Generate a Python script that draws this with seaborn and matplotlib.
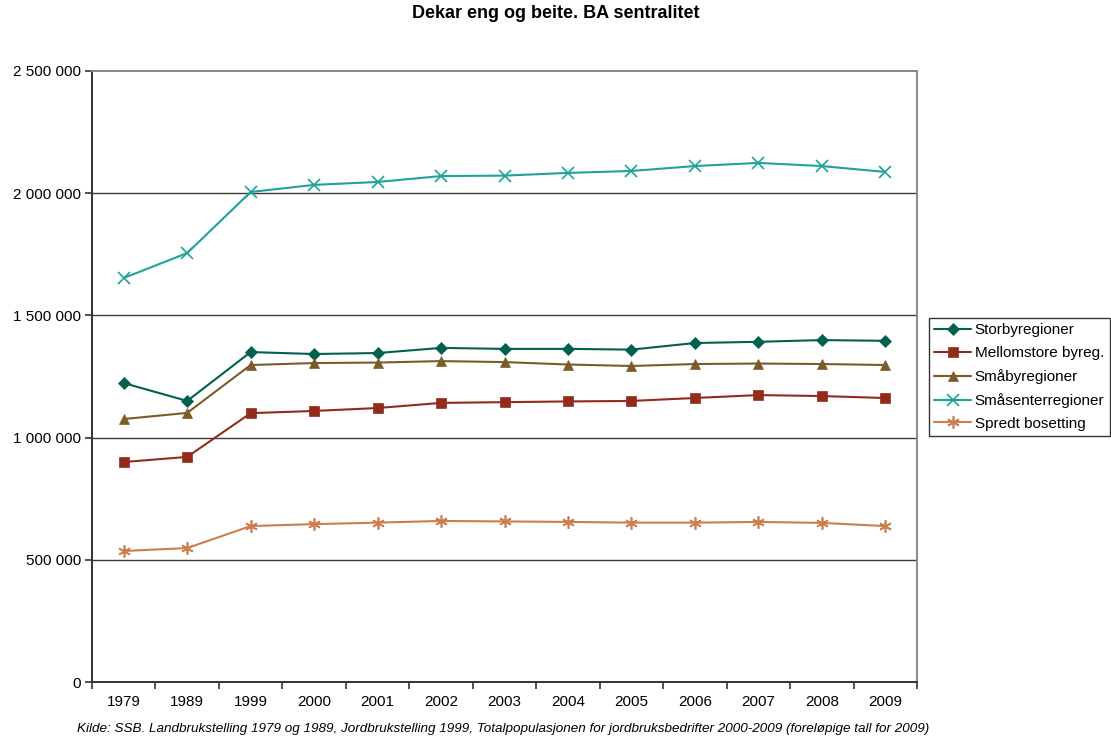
import numpy as np
import pandas as pd
import seaborn as sns
import matplotlib
matplotlib.use("Agg")
import matplotlib.pyplot as plt
from matplotlib.ticker import FuncFormatter, MultipleLocator, FixedLocator

years = ["1979", "1989", "1999", "2000", "2001", "2002", "2003",
         "2004", "2005", "2006", "2007", "2008", "2009"]

storby = [1223000, 1150000, 1350000, 1342000, 1346000, 1367000, 1363000,
          1363000, 1360000, 1387000, 1392000, 1399000, 1396000]
mellomstore = [900000, 921000, 1100000, 1109000, 1121000, 1142000, 1145000,
               1148000, 1150000, 1162000, 1174000, 1170000, 1162000]
smaaby = [1076000, 1101000, 1297000, 1305000, 1307000, 1313000, 1309000,
          1299000, 1293000, 1301000, 1303000, 1301000, 1297000]
smaasenter = [1653000, 1755000, 2005000, 2034000, 2046000, 2070000, 2072000,
              2083000, 2091000, 2111000, 2124000, 2111000, 2087000]
spredt = [536000, 548000, 638000, 646000, 652000, 659000, 657000,
          655000, 652000, 652000, 655000, 651000, 638000]

series_names = ["Storbyregioner", "Mellomstore byreg.", "Småbyregioner",
                "Småsenterregioner", "Spredt bosetting"]
series_values = [storby, mellomstore, smaaby, smaasenter, spredt]

colors = ["#00604F", "#922B1C", "#7A5C28", "#1EA39A", "#CC7F4E"]
markers = ["D", "s", "^", "x", (6, 2, 0)]
msizes = [6.5, 7.5, 7.5, 8.5, 9]

rows = []
for name, vals in zip(series_names, series_values):
    for y, v in zip(years, vals):
        rows.append({"year": y, "value": v, "series": name})
df = pd.DataFrame(rows)

sns.set_theme(style="white")
plt.rcParams['font.family'] = ['Liberation Sans', 'DejaVu Sans']
plt.rcParams['text.color'] = 'black'
plt.rcParams['xtick.labelcolor'] = 'black'
plt.rcParams['ytick.labelcolor'] = 'black'

fig = plt.figure(figsize=(11.11, 7.4), dpi=100)
ax = fig.add_axes([92 / 1111, 58 / 740, 825 / 1111, 611 / 740])

for name, c, m, ms in zip(series_names, colors, markers, msizes):
    sub = df[df["series"] == name]
    sns.lineplot(data=sub, x="year", y="value", ax=ax, color=c, marker=m,
                 markersize=ms, markeredgecolor=c,
                 markeredgewidth=1.2 if m in ("x", (6, 2, 0)) else 0.5,
                 linewidth=1.5, label=name, sort=False)

ax.set_xlim(-0.5, len(years) - 0.5)
ax.set_ylim(0, 2500000)
ax.yaxis.set_major_locator(MultipleLocator(500000))
ax.yaxis.set_major_formatter(FuncFormatter(lambda v, p: f"{int(v):,}".replace(",", " ")))
ax.set_xlabel("")
ax.set_ylabel("")

for v in [500000, 1000000, 1500000, 2000000]:
    ax.axhline(v, color="#3a3a3a", linewidth=1.0, zorder=0)

for s in ["left", "bottom"]:
    ax.spines[s].set_color("#333333")
    ax.spines[s].set_linewidth(1.4)
for s in ["top", "right"]:
    ax.spines[s].set_color("#888888")
    ax.spines[s].set_linewidth(1.4)

ax.xaxis.set_minor_locator(FixedLocator(np.arange(-0.5, len(years), 1.0)))
ax.tick_params(axis="x", which="major", length=0, labelsize=11, pad=9, labelcolor="black")
ax.tick_params(axis="x", which="minor", length=5, width=1.2, color="#333333", bottom=True)
ax.tick_params(axis="y", which="major", length=5, width=1.2, color="#333333", left=True,
               labelsize=11, pad=3, labelcolor="black")

leg = ax.legend(loc="upper left", bbox_to_anchor=(929 / 1111, 1 - 318 / 740),
                bbox_transform=fig.transFigure, frameon=True, fancybox=False,
                edgecolor="black", fontsize=11, handlelength=2.4, handletextpad=0.25,
                borderpad=0.35, labelspacing=0.58, borderaxespad=0)
leg.get_frame().set_linewidth(1.0)
for t in leg.get_texts():
    t.set_color("black")

fig.text(0.5, 1 - 14 / 740, "Dekar eng og beite. BA sentralitet", ha="center", va="center",
         fontsize=13, fontweight="bold", color="black")
fig.text(503 / 1111, 1 - 729 / 740,
         "Kilde: SSB. Landbrukstelling 1979 og 1989, Jordbrukstelling 1999, Totalpopulasjonen for jordbruksbedrifter 2000-2009 (foreløpige tall for 2009)",
         ha="center", va="center", fontsize=9.7, style="italic", color="black")

fig.savefig("out.png", dpi=100, facecolor="white")
